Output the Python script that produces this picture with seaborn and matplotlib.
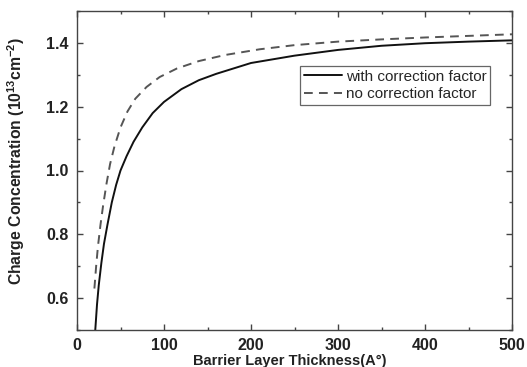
import matplotlib
matplotlib.use("Agg")
import matplotlib.pyplot as plt
import seaborn as sns
import pandas as pd
from matplotlib.ticker import MultipleLocator

# Data
thick_with = [21, 23, 25, 28, 31, 35, 40, 45, 50, 57, 65, 75, 87, 100, 120, 140, 160, 200, 250, 300, 350, 400,
              450, 500]
conc_with = [0.50, 0.58, 0.64, 0.71, 0.77, 0.83, 0.90, 0.955, 1.00, 1.045, 1.09, 1.135, 1.18, 1.215, 1.255,
             1.283, 1.303, 1.337, 1.360, 1.378, 1.391, 1.399, 1.404, 1.408]

thick_no = [20, 22, 24, 27, 30, 34, 38, 43, 50, 58, 67, 80, 95, 115, 140, 170, 210, 250, 300, 350, 400, 450, 500]
conc_no = [0.63, 0.70, 0.76, 0.83, 0.89, 0.96, 1.02, 1.075, 1.135, 1.185, 1.225, 1.262, 1.293, 1.320, 1.343,
           1.362, 1.380, 1.393, 1.404, 1.411, 1.417, 1.422, 1.427]

label_with = "with correction factor"
label_no = "no correction factor"
xlabel = "Barrier Layer Thickness(A\u00b0)"
ylabel = r"Charge Concentration (10$^{\mathbf{13}}$cm$^{\mathbf{-2}}$)"

sns.set_style("ticks")
plt.rcParams['font.family'] = ['Liberation Sans', 'DejaVu Sans']
plt.rcParams['mathtext.fontset'] = 'custom'
plt.rcParams['mathtext.rm'] = 'Liberation Sans:bold'
plt.rcParams['mathtext.bf'] = 'Liberation Sans:bold'
plt.rcParams['mathtext.it'] = 'Liberation Sans:bold'

fig = plt.figure(figsize=(5.27, 3.67), dpi=100)
ax = fig.add_axes([77/527, 1-330/367, (512-77)/527, (330-11)/367])

df_with = pd.DataFrame({"t": thick_with, "n": conc_with})
df_no = pd.DataFrame({"t": thick_no, "n": conc_no})

sns.lineplot(data=df_with, x="t", y="n", ax=ax, color="#111111", lw=1.4, label=label_with)
sns.lineplot(data=df_no, x="t", y="n", ax=ax, color="#555555", lw=1.4, label=label_no,
             dashes=False, linestyle=(0, (4.5, 3.2)))

ax.set_xlim(0, 500)
ax.set_ylim(0.5, 1.5)
ax.xaxis.set_major_locator(MultipleLocator(100))
ax.xaxis.set_minor_locator(MultipleLocator(50))
ax.yaxis.set_minor_locator(MultipleLocator(0.1))
ax.set_yticks([0.6, 0.8, 1.0, 1.2, 1.4])
ax.set_yticklabels(["0.6", "0.8", "1.0", "1.2", "1.4"])

ax.tick_params(which="both", direction="in", top=True, right=True, color="#444444")
ax.tick_params(which="major", length=4, width=1.0, labelsize=11.5, pad=6)
ax.tick_params(which="minor", length=2.5, width=1.0)
for lab in ax.get_xticklabels() + ax.get_yticklabels():
    lab.set_fontweight("bold")
    lab.set_color("#222222")

for sp in ax.spines.values():
    sp.set_visible(True)
    sp.set_color("#444444")
    sp.set_linewidth(1.0)

ax.set_xlabel(xlabel, fontsize=10.5, fontweight="bold", color="#222222")
ax.xaxis.set_label_coords(0.49, -0.074)
ax.set_ylabel(ylabel, fontsize=11.3, fontweight="bold", color="#222222")
ax.yaxis.set_label_coords(-0.115, 0.53)

leg = ax.legend(loc="upper left", bbox_to_anchor=((300-77)/435, (330-66)/319), fontsize=11,
                frameon=True, fancybox=False, framealpha=1, edgecolor="#666666",
                handlelength=2.5, handletextpad=0.25, borderpad=0.25, labelspacing=0.2,
                borderaxespad=0)
leg.get_frame().set_linewidth(0.9)

fig.savefig("out.png", dpi=100)
